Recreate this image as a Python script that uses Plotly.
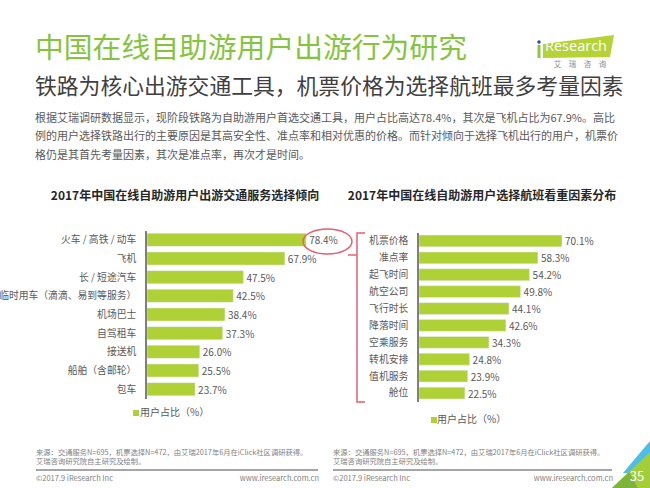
import plotly.graph_objects as go

W, H = 650, 488
FONT = "Noto Sans CJK SC"

# ---------------- data ----------------
transport_cats = ["火车 / 高铁 / 动车", "飞机", "长 / 短途汽车", "临时用车（滴滴、易到等服务）",
                  "机场巴士", "自驾租车", "接送机", "船舶（含邮轮）", "包车"]
transport_vals = [78.4, 67.9, 47.5, 42.5, 38.4, 37.3, 26.0, 25.5, 23.7]

flight_cats = ["机票价格", "准点率", "起飞时间", "航空公司", "飞行时长",
               "降落时间", "空乘服务", "转机安排", "值机服务", "舱位"]
flight_vals = [70.1, 58.3, 54.2, 49.8, 44.1, 42.6, 34.3, 24.8, 23.9, 22.5]

series_name = "用户占比（%）"

title = "中国在线自助游用户出游行为研究"
subtitle = "铁路为核心出游交通工具，机票价格为选择航班最多考量因素"
body_lines = [
    "根据艾瑞调研数据显示，现阶段铁路为自助游用户首选交通工具，用户占比高达78.4%，其次是飞机占比为67.9%。高比",
    "例的用户选择铁路出行的主要原因是其高安全性、准点率和相对优惠的价格。而针对倾向于选择飞机出行的用户，机票价",
    "格仍是其首先考量因素，其次是准点率，再次才是时间。",
]
chart_title_left = "2017年中国在线自助游用户出游交通服务选择倾向"
chart_title_right = "2017年中国在线自助游用户选择航班看重因素分布"
source_lines = ["来源：交通服务N=695，机票选择N=472，由艾瑞2017年6月在iClick社区调研获得。",
                "艾瑞咨询研究院自主研究及绘制。"]
copyright_txt = "©2017.9 iResearch Inc"
site_txt = "www.iresearch.com.cn"
page_no = "35"

BAR = "#afd135"
GREEN_T = "#86c440"
GRAY = "#595959"


def X(px):
    return px / W


def Y(py):
    return 1 - py / H


def path(pts, close=True):
    s = "M " + " L ".join(f"{X(a):.5f},{Y(b):.5f}" for a, b in pts)
    return s + (" Z" if close else "")


fig = go.Figure()

fig.add_trace(go.Bar(
    x=transport_vals, y=transport_cats, orientation="h",
    marker=dict(color=BAR), name=series_name,
    text=[f"{v:.1f}%" for v in transport_vals], textposition="outside", constraintext="none",
    textfont=dict(family=FONT, size=10, color=GRAY), cliponaxis=False,
    xaxis="x", yaxis="y", showlegend=False, hoverinfo="skip",
))
fig.add_trace(go.Bar(
    x=flight_vals, y=flight_cats, orientation="h",
    marker=dict(color=BAR), name=series_name,
    text=[f"{v:.1f}%" for v in flight_vals], textposition="outside", constraintext="none",
    textfont=dict(family=FONT, size=10, color=GRAY), cliponaxis=False,
    xaxis="x2", yaxis="y2", showlegend=False, hoverinfo="skip",
))


def ptxt(x, y, t, size, color=GRAY, pos="middle right", weight="normal", family=FONT):
    fig.add_trace(go.Scatter(
        x=[x], y=[y], text=[t], mode="text", textposition=pos,
        textfont=dict(family=family, size=size, color=color, weight=weight),
        xaxis="x3", yaxis="y3", showlegend=False, hoverinfo="skip", cliponaxis=False,
    ))


ptxt(35, 51, title, 28.8, GREEN_T)
ptxt(35, 89, subtitle, 21.8, "#404040")
for i, line in enumerate(body_lines):
    ptxt(35, 119 + i * 18.5, line, 11, GRAY)
ptxt(185, 197, chart_title_left, 12, "#262626", pos="middle center", weight="bold")
ptxt(482, 197, chart_title_right, 12, "#262626", pos="middle center", weight="bold")

# legends
ptxt(140, 413, series_name, 10, GRAY)
ptxt(437, 420, series_name, 10, GRAY)

# footer
for x0, x1 in [(38, 318), (335, 612)]:
    ptxt(x0 - 2, 453, source_lines[0], 7.3, "#7f7f7f")
    ptxt(x0 - 2, 462, source_lines[1], 7.3, "#7f7f7f")
    ptxt(x0 - 2, 479, copyright_txt, 7.5, "#7f7f7f")
    ptxt(x1 + 1, 479, site_txt, 7.5, "#7f7f7f", pos="middle left")

# logo text + page number
ptxt(576, 47, "Research", 14.5, "white", pos="middle center", family="Open Sans")
ptxt(580, 65, "艾　瑞　咨　询", 7.5, "#8c8c8c", pos="middle center")
ptxt(637, 478, page_no, 13, "white", pos="middle center")

n1, n2 = len(transport_cats), len(flight_cats)
yax_common = dict(showline=True, linecolor="#7f7f7f", linewidth=1.5, showgrid=False,
                  ticks="", ticklabelstandoff=7, zeroline=False,
                  tickfont=dict(family=FONT, size=9.8, color=GRAY), type="category")

fig.update_layout(
    width=W, height=H, margin=dict(l=0, r=0, t=0, b=0),
    paper_bgcolor="white", plot_bgcolor="rgba(0,0,0,0)",
    bargap=0.3, font=dict(family=FONT, color=GRAY),
    xaxis=dict(domain=[X(147), X(350)], range=[0, 100], visible=False, anchor="y"),
    yaxis=dict(domain=[Y(398.5), Y(230.5)], range=[n1 - 0.5, -0.5],
               categoryorder="array", categoryarray=transport_cats, anchor="x", **yax_common),
    xaxis2=dict(domain=[X(419), X(623)], range=[0, 100], visible=False, anchor="y2"),
    yaxis2=dict(domain=[Y(401.5), Y(232.5)], range=[n2 - 0.5, -0.5],
                categoryorder="array", categoryarray=flight_cats, anchor="x2", **yax_common),
    xaxis3=dict(domain=[0, 1], range=[0, W], visible=False, anchor="y3", fixedrange=True),
    yaxis3=dict(domain=[0, 1], range=[H, 0], visible=False, anchor="x3", fixedrange=True),
)

shapes = []
# legend squares
shapes.append(dict(type="rect", xref="paper", yref="paper", x0=X(133), x1=X(139), y0=Y(416), y1=Y(410),
                   fillcolor=BAR, line=dict(width=0)))
shapes.append(dict(type="rect", xref="paper", yref="paper", x0=X(431), x1=X(437), y0=Y(423), y1=Y(417),
                   fillcolor=BAR, line=dict(width=0)))
# footer separators
for x0, x1 in [(38, 318), (335, 612)]:
    shapes.append(dict(type="line", xref="paper", yref="paper", x0=X(x0 - 2), x1=X(x1), y0=Y(470), y1=Y(470),
                       line=dict(color="#a6a6a6", width=2)))
# red ellipse and bracket
RED = "#e4606e"
shapes.append(dict(type="circle", xref="paper", yref="paper", x0=X(303), x1=X(352), y0=Y(254), y1=Y(229),
                   line=dict(color=RED, width=1.5)))
shapes.append(dict(type="path", xref="paper", yref="paper",
                   path=path([(365, 233), (357, 233), (357, 402), (365, 402)], close=False),
                   line=dict(color=RED, width=1.5)))
shapes.append(dict(type="path", xref="paper", yref="paper",
                   path=path([(357, 255), (348, 255)], close=False),
                   line=dict(color=RED, width=1.5)))
# logo
shapes.append(dict(type="path", xref="paper", yref="paper", layer="below",
                   path=path([(543, 44), (614, 35), (610, 57), (543, 58)]),
                   fillcolor="#b5d334", line=dict(width=0)))
shapes.append(dict(type="rect", xref="paper", yref="paper", x0=X(537.5), x1=X(540.5), y0=Y(58), y1=Y(45),
                   fillcolor="#8dc63f", line=dict(width=0)))
shapes.append(dict(type="circle", xref="paper", yref="paper", x0=X(537.3), x1=X(540.7), y0=Y(43.7), y1=Y(40.3),
                   fillcolor="#1f4e9c", line=dict(width=0)))
# corner decoration
shapes.append(dict(type="path", xref="paper", yref="paper", layer="below",
                   path=path([(623, 473), (650, 441), (650, 473)]),
                   fillcolor="#4dbde9", line=dict(width=0)))
shapes.append(dict(type="path", xref="paper", yref="paper", layer="below",
                   path=path([(612, 488), (650, 452), (650, 488)]),
                   fillcolor="#a3cd39", line=dict(width=0)))
shapes.append(dict(type="path", xref="paper", yref="paper", layer="below",
                   path=path([(612, 488), (629, 472), (638, 488)]),
                   fillcolor="#7db53a", line=dict(width=0)))

fig.update_layout(shapes=shapes)
fig.write_html("out.html", config={"displayModeBar": False},
               post_script="document.body.style.margin='0';document.body.style.overflow='hidden';")
